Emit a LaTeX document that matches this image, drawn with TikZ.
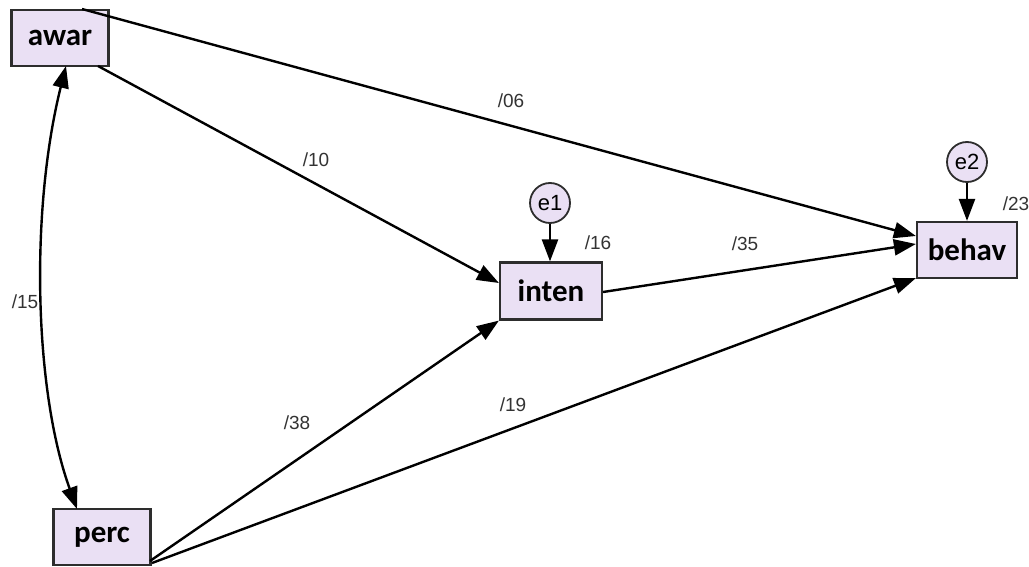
\documentclass[tikz,border=0pt]{standalone}
\usepackage{fontspec}
\setmainfont{Liberation Sans}
\newfontfamily\boxfont{Carlito}
\usetikzlibrary{arrows.meta}
\definecolor{boxfill}{RGB}{234,224,244}
\definecolor{boxline}{RGB}{45,45,45}
\tikzset{
  var/.style={draw=boxline, line width=2.2pt, fill=boxfill, minimum width=97pt, minimum height=56pt, inner sep=0pt, font=\boxfont\bfseries\fontsize{31}{33}\selectfont},
  err/.style={circle, draw=boxline, line width=1.8pt, fill=boxfill, minimum size=40pt, inner sep=0pt, font=\fontsize{22}{24}\selectfont},
  lab/.style={font=\fontsize{19}{21}\selectfont, text=black!80, inner sep=0pt},
  path/.style={draw=black, line width=2.4pt, -{Triangle[length=22pt,width=16pt]}},
}
\begin{document}
\begin{tikzpicture}[x=1pt,y=-1pt]
\useasboundingbox (0,0) rectangle (1029,567);
\node[var] (awar) at (60,38) {awar};
\node[var] (perc) at (102,537) {perc};
\node[var, minimum width=102pt, minimum height=57pt] (inten) at (551,291) {inten};
\node[var, minimum width=100pt] (behav) at (967,250) {behav};
\node[err] (e1) at (550,203) {e1};
\node[err] (e2) at (967,162) {e2};
\coordinate (a1) at (82,9);
\coordinate (a2) at (98,66);
\coordinate (a3) at (66,66);
\coordinate (p1) at (77,509);
\coordinate (p2) at (150,561);
\coordinate (p3) at (152,563);
\draw[path] (a1) -- (behav.west |- 0,236);
\draw[path] (a2) -- (inten.west |- 0,283);
\draw[path] (p2) -- (inten.south west);
\draw[path] (p3) -- ([yshift=1pt]behav.south west);
\draw[path] (inten.east |- 0,292) -- (behav.west |- 0,244);
\draw[path] (e1) -- (inten.north -| e1);
\draw[path] (e2) -- (behav.north -| e2);
\draw[path, {Triangle[length=22pt,width=16pt]}-{Triangle[length=22pt,width=16pt]}] (a3) .. controls (30,210) and (34,390) .. (p1);
\node[lab] (l06) at (511,101) {/06};
\node[lab] (l10) at (316,160) {/10};
\node[lab] (l15) at (25,302) {/15};
\node[lab] (l16) at (598,243) {/16};
\node[lab] (l35) at (745,244) {/35};
\node[lab] (l23) at (1016,204) {/23};
\node[lab] (l38) at (297,423) {/38};
\node[lab] (l19) at (513,405) {/19};
\end{tikzpicture}
\end{document}
